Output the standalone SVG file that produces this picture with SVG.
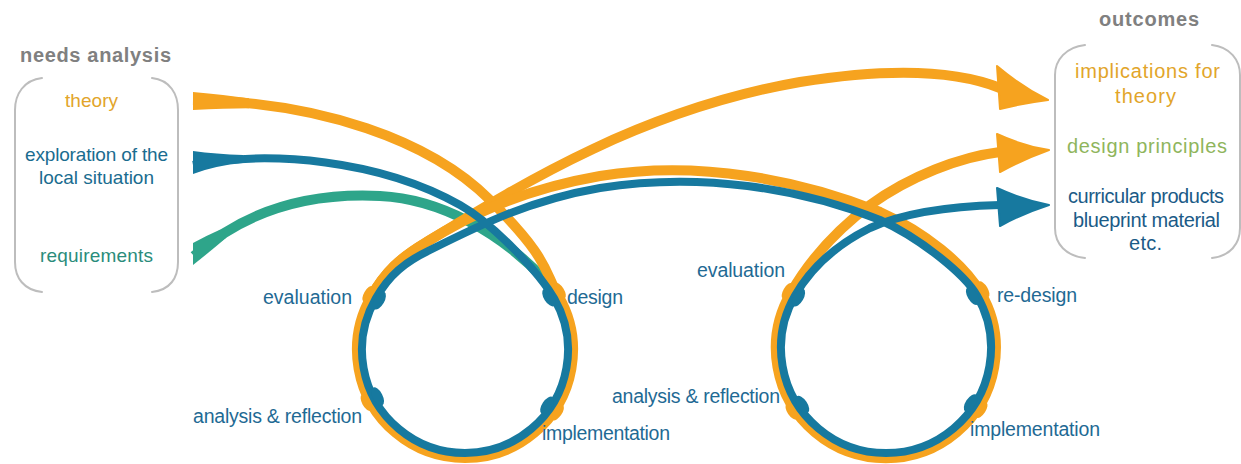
<svg xmlns="http://www.w3.org/2000/svg" width="1241" height="464" viewBox="0 0 1241 464">
<defs>
<style>
text{font-family:"Liberation Sans",Arial,sans-serif;font-size:19px}
.head{font-weight:bold;font-size:20px;fill:#808080}
.rt{font-size:20px}
.lab{fill:#1f6a94;font-size:19.5px}
.br{fill:none;stroke:#bdbdbd;stroke-width:2;stroke-linecap:round}
.or{fill:none;stroke:#f6a31f;stroke-width:10;stroke-linecap:butt;stroke-linejoin:round}
.bl{fill:none;stroke:#17799f;stroke-width:8;stroke-linecap:butt;stroke-linejoin:round}
.te{fill:none;stroke:#2ea58a;stroke-width:10;stroke-linecap:butt}
.orf{fill:#f6a31f}
.blf{fill:#17799f}
.tef{fill:#2ea58a}
.ah-o{fill:#f6a31f;stroke:#f6a31f;stroke-width:2;stroke-linejoin:round}
.ah-b{fill:#17799f;stroke:#17799f;stroke-width:2;stroke-linejoin:round}
</style>
</defs>
<rect width="1241" height="464" fill="#ffffff"/>

<g id="needs-analysis">
<text class="head" x="20" y="62" textLength="151" lengthAdjust="spacing">needs analysis</text>
<path class="br" d="M42,78 C24,80 15,94 15,110 L15,262 C15,278 24,290 42,292"/>
<path class="br" d="M152,78 C170,80 178,94 178,110 L178,262 C178,278 170,290 152,292"/>
<text x="65" y="107" fill="#e2a52a" textLength="53" lengthAdjust="spacing">theory</text>
<text x="25" y="161" fill="#1a6c8f" textLength="143" lengthAdjust="spacing">exploration of the</text>
<text x="39" y="184" fill="#1a6c8f" textLength="115" lengthAdjust="spacing">local situation</text>
<text x="40" y="262" fill="#2a8c7b" textLength="113" lengthAdjust="spacing">requirements</text>
</g>

<g id="outcomes">
<text class="head" x="1099" y="26" textLength="100" lengthAdjust="spacing">outcomes</text>
<path class="br" d="M1085,45 C1066,47 1055,60 1055,75 L1055,228 C1055,244 1066,256 1085,258"/>
<path class="br" d="M1212,45 C1230,47 1240,60 1240,75 L1240,228 C1240,244 1230,256 1212,258"/>
<text class="rt" x="1075" y="78" fill="#e2a52a" textLength="145" lengthAdjust="spacing">implications for</text>
<text class="rt" x="1115" y="103" fill="#e2a52a" textLength="61" lengthAdjust="spacing">theory</text>
<text class="rt" x="1067" y="153" fill="#8fb55c" textLength="160" lengthAdjust="spacing">design principles</text>
<text class="rt" x="1068" y="203" fill="#1b5b87" textLength="156" lengthAdjust="spacing">curricular products</text>
<text class="rt" x="1073" y="227" fill="#1b5b87" textLength="147" lengthAdjust="spacing">blueprint material</text>
<text class="rt" x="1129" y="250" fill="#1b5b87" textLength="33" lengthAdjust="spacing">etc.</text>
</g>

<g id="connectors">
<!-- requirements (teal) merging into loop 1 -->
<path class="te" d="M194,256 C240,215 300,192 380,196 C440,199 500,232 545,280"/>
<path class="tef" d="M193,243 L193,265 Q212,250 226.2,237.8 L220.4,229.6 Q206,236 193,243 Z"/>
<!-- theory (orange) loop 1 to implications for theory -->
<path class="or" d="M193,100 C320,102 430,140 490,200 S543.5,270 558.5,296 A108,108 0 1 1 371.5,296 C385,272 400,258 425,243 C520,185 640,110 800,82 C900,66 960,72 1000,88"/>
<path class="orf" d="M193,92 L193,110 Q225,108.5 249,108.3 L249,98.3 Q225,95 193,92 Z"/>
<!-- orange loop 1 to loop 2 to design principles -->
<path class="or" d="M371.5,296 C385,272 400,258 425,243 C470,215 520,190 600,176 C700,160 800,180 880,212 C925,232 964,264 981,293 A110,110 0 1 1 790.7,293 C805,268 830,235 870,205 C910,176 960,157 1000,152"/>
<!-- exploration (blue) loop 1, loop 2, curricular products -->
<path class="bl" d="M193,165 C270,150 380,160 460,205 C495,225 540,274 554.2,298.5 A103,103 0 1 1 375.8,298.5 C389,275 405,262 430,250 C480,225 530,200 600,188 C700,172 800,188 880,220 C920,238 965,274.5 976.9,295.5 A105,105 0 1 1 795.1,295.5 C808,273 830,248 870,228 C910,210 960,206 1000,205"/>
<path class="blf" d="M193,151 L193,174 Q216,165.5 243,163.1 L243,155.1 Q216,154 193,151 Z"/>
<!-- arrowheads -->
<path class="ah-o" d="M997,66 Q1022,87 1048,100 Q1024,103 1000,109 Z"/>
<path class="ah-o" d="M997,134 Q1023,146 1049,150 Q1024,159 1000,172 Z"/>
<path class="ah-b" d="M997,188 Q1023,200 1049,205 Q1024,213 1000,226 Z"/>
</g>

<g id="cycle-1">
<g class="orf">
<ellipse cx="368" cy="294" rx="9" ry="4" transform="rotate(-60 368 294)"/>
<ellipse cx="560" cy="290.6" rx="9" ry="4" transform="rotate(58 560 290.6)"/>
<ellipse cx="366.1" cy="402.6" rx="9" ry="4" transform="rotate(62 366.1 402.6)"/>
<ellipse cx="557.9" cy="412.6" rx="9" ry="4" transform="rotate(124 557.9 412.6)"/>
</g>
<g class="blf">
<ellipse cx="379.3" cy="300.5" rx="10" ry="5" transform="rotate(-60 379.3 300.5)"/>
<ellipse cx="549" cy="297.5" rx="10" ry="5" transform="rotate(58 549 297.5)"/>
<ellipse cx="377.6" cy="396.5" rx="10" ry="5" transform="rotate(62 377.6 396.5)"/>
<ellipse cx="547.1" cy="405.3" rx="10" ry="5" transform="rotate(124 547.1 405.3)"/>
</g>
<text class="lab" x="263" y="304" textLength="89" lengthAdjust="spacing">evaluation</text>
<text class="lab" x="567" y="304" textLength="56" lengthAdjust="spacing">design</text>
<text class="lab" x="193" y="423" textLength="169" lengthAdjust="spacing">analysis &amp; reflection</text>
<text class="lab" x="542" y="440" textLength="128" lengthAdjust="spacing">implementation</text>
</g>

<g id="cycle-2">
<g class="orf">
<ellipse cx="787.3" cy="291" rx="9" ry="4" transform="rotate(-60 787.3 291)"/>
<ellipse cx="983.7" cy="289.3" rx="9" ry="4" transform="rotate(59 983.7 289.3)"/>
<ellipse cx="791.5" cy="411.7" rx="9" ry="4" transform="rotate(56 791.5 411.7)"/>
<ellipse cx="981.6" cy="410.1" rx="9" ry="4" transform="rotate(123 981.6 410.1)"/>
</g>
<g class="blf">
<ellipse cx="798.5" cy="297.5" rx="10" ry="5" transform="rotate(-60 798.5 297.5)"/>
<ellipse cx="972.6" cy="296" rx="10" ry="5" transform="rotate(59 972.6 296)"/>
<ellipse cx="802.3" cy="404.5" rx="10" ry="5" transform="rotate(56 802.3 404.5)"/>
<ellipse cx="970.7" cy="403" rx="10" ry="5" transform="rotate(123 970.7 403)"/>
</g>
<text class="lab" x="697" y="277" textLength="88" lengthAdjust="spacing">evaluation</text>
<text class="lab" x="997" y="302" textLength="80" lengthAdjust="spacing">re-design</text>
<text class="lab" x="612" y="403" textLength="168" lengthAdjust="spacing">analysis &amp; reflection</text>
<text class="lab" x="970" y="436" textLength="130" lengthAdjust="spacing">implementation</text>
</g>
</svg>
